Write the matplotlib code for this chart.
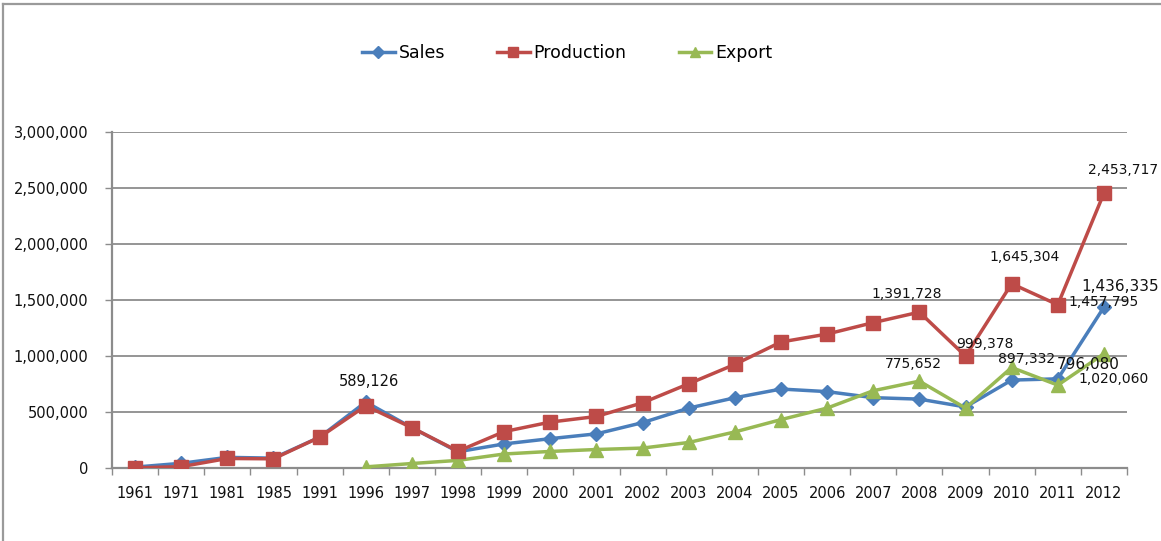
import numpy as np
import matplotlib
matplotlib.use("Agg")
import matplotlib.pyplot as plt
from matplotlib.lines import Line2D
from matplotlib.ticker import FuncFormatter, FixedLocator

years = ["1961", "1971", "1981", "1985", "1991", "1996", "1997", "1998", "1999",
         "2000", "2001", "2002", "2003", "2004", "2005", "2006", "2007", "2008",
         "2009", "2010", "2011", "2012"]

sales = [8000, 42000, 95000, 88000, 275000, 589126, 360000, 145000, 215000,
         262000, 305000, 405000, 535000, 627000, 705000, 682000, 628000, 615000,
         545000, 785000, 796080, 1436335]

production = [1000, 12000, 85000, 82000, 275000, 555000, 360000, 150000, 325000,
              410000, 460000, 582000, 752000, 925000, 1125000, 1196000, 1298000, 1391728,
              999378, 1645304, 1457795, 2453717]

export = [np.nan, np.nan, np.nan, np.nan, np.nan, 10000, 40000, 68000, 125000,
          148000, 165000, 178000, 228000, 322000, 432000, 535000, 690000, 775652,
          535000, 897332, 740000, 1020060]

# (series, category, offset in points, font size)
value_labels = [
    ("sales", "1996", (2, 15), 10.5),
    ("production", "2008", (-9, 13), 10),
    ("export", "2008", (-4, 12), 10),
    ("production", "2009", (14, 9), 10),
    ("production", "2010", (9, 19), 10),
    ("export", "2010", (11, 6), 10),
    ("sales", "2011", (22, 10), 11),
    ("export", "2012", (7, -18), 10),
    ("production", "2011", (33, 2), 10),
    ("sales", "2012", (12, 15), 11),
    ("production", "2012", (14, 17), 10),
]

series = {"sales": sales, "production": production, "export": export}

BLUE = "#4A7EBB"
RED = "#BE4B48"
GREEN = "#98B954"
GRID = "#8C8C8C"

fig = plt.figure(figsize=(11.61, 5.41), dpi=100)
ax = fig.add_axes([112 / 1161, 73 / 541, (1127 - 112) / 1161, (468 - 132) / 541])

x = np.arange(len(years))
ax.plot(x, sales, color=BLUE, lw=2.5, marker="D", ms=7.5, label="Sales", zorder=3)
ax.plot(x, production, color=RED, lw=2.5, marker="s", ms=10, label="Production", zorder=4)
ax.plot(x, export, color=GREEN, lw=2.5, marker="^", ms=10, label="Export", zorder=3)

ax.set_xlim(-0.5, len(years) - 0.5)
ax.set_ylim(0, 3000000)
ax.set_yticks(np.arange(0, 3000001, 500000))
ax.yaxis.set_major_formatter(FuncFormatter(lambda v, p: f"{int(v):,}"))
ax.grid(axis="y", color=GRID, lw=1.3)
ax.set_axisbelow(True)

ax.set_xticks(x)
ax.set_xticklabels(years)
ax.xaxis.set_minor_locator(FixedLocator(np.arange(-0.5, len(years), 1.0)))
ax.tick_params(axis="x", which="major", length=0, pad=13, labelsize=10.5, labelcolor="#111111")
ax.tick_params(axis="x", which="minor", length=5, width=1, color=GRID, direction="out")
ax.tick_params(axis="y", length=5, width=1, color=GRID, pad=12, labelsize=10.5, labelcolor="#111111")

for s in ["top", "right"]:
    ax.spines[s].set_visible(False)
for s in ["left", "bottom"]:
    ax.spines[s].set_color(GRID)
    ax.spines[s].set_linewidth(1.6)

for key, yr, off, fs in value_labels:
    i = years.index(yr)
    v = series[key][i]
    ax.annotate(f"{v:,}", xy=(i, v), xytext=off, textcoords="offset points",
                ha="center", va="center", fontsize=fs, color="#111111", zorder=6)

handles = [
    Line2D([], [], color=BLUE, lw=2.5, marker="D", ms=6),
    Line2D([], [], color=RED, lw=2.5, marker="s", ms=7),
    Line2D([], [], color=GREEN, lw=2.5, marker="^", ms=7),
]
fig.legend(handles, ["Sales", "Production", "Export"], loc="center",
           bbox_to_anchor=(567 / 1161, 1 - 53 / 541), ncol=3, frameon=False,
           fontsize=12.5, handlelength=1.9, handletextpad=0.2, columnspacing=3.0)

# outer chart border (top and left edges)
fig.add_artist(Line2D([3 / 1161, 1], [1 - 4 / 541, 1 - 4 / 541], color="#9A9A9A", lw=1.6,
                      transform=fig.transFigure))
fig.add_artist(Line2D([3 / 1161, 3 / 1161], [0, 1 - 4 / 541], color="#9A9A9A", lw=1.6,
                      transform=fig.transFigure))

fig.savefig("out.png", dpi=100)
